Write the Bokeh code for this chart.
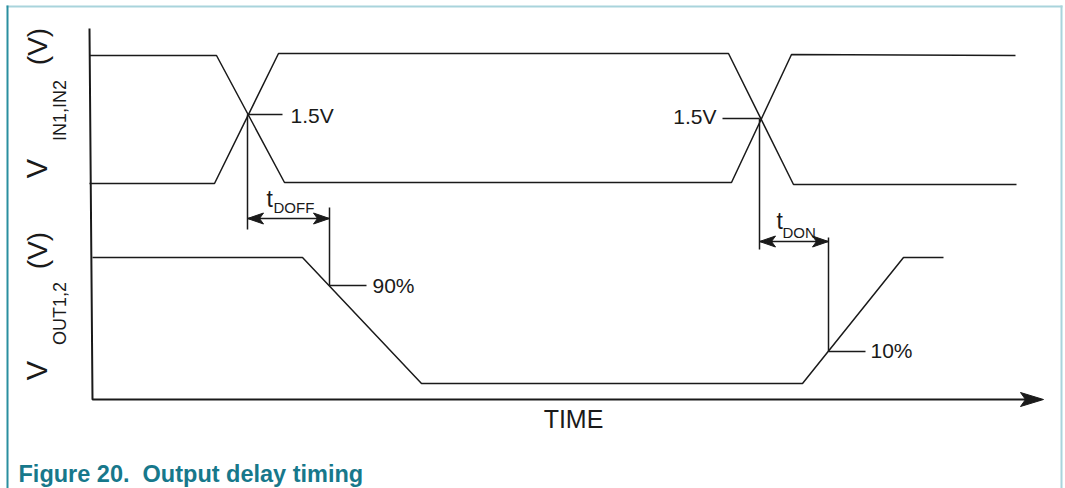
import math
from bokeh.plotting import figure
from bokeh.models import Range1d
from bokeh.core.properties import value
from bokeh.embed import file_html
from bokeh.resources import INLINE

# ---- diagram data (reference pixel units) ----
in_a_x = [89, 216, 284, 731, 791, 1015]
in_a_y = [55, 55, 182, 182, 54, 55]
in_b_x = [89, 214, 278, 728, 793, 1016]
in_b_y = [183, 183, 53, 53, 184, 184]
out_x = [92, 302, 421, 802, 903, 943]
out_y = [257, 257, 383, 383, 257, 257]

axis_x = [89, 92, 1040]
axis_y = [28, 399, 399]

# marker (vertical) lines
vl_x0 = [247, 329, 759, 828]
vl_y0 = [114, 207, 118, 237]
vl_x1 = [247, 329, 759, 828]
vl_y1 = [229, 285, 249, 351]

# short level ticks
tk_x0 = [247, 722, 329, 828]
tk_y0 = [114, 118, 285, 351]
tk_x1 = [282, 759, 366, 865]
tk_y1 = [114, 118, 285, 351]

# double arrows: (x_start, x_end, y)
darrow_x0 = [247, 759]
darrow_x1 = [329, 828]
darrow_y = [218, 241]

labels_text = ["1.5V", "1.5V", "90%", "10%"]
labels_x = [290, 716, 372, 870]
labels_y = [114.5, 115.5, 284.5, 350]
labels_align = ["left", "right", "left", "left"]

INK = "#1a1a1a"
FONT = "Liberation Sans"
W_PX, H_PX = 1065, 488

p = figure(width=W_PX, height=H_PX, output_backend="svg", toolbar_location=None,
           x_range=Range1d(0, W_PX), y_range=Range1d(H_PX, 0),
           min_border=0, background_fill_color="white", border_fill_color="white")
p.axis.visible = False
p.grid.visible = False
p.outline_line_color = None

# frame border
p.line([6, 1062], [6, 6], line_color="#a9d4dc", line_width=2)
p.line([7, 7], [5, 488], line_color="#2a8fa0", line_width=2)
p.line([1061, 1061], [5, 488], line_color="#a9d4dc", line_width=2)

# axes
p.line(axis_x, axis_y, line_color=INK, line_width=2)
tipx, tipy = 1043, 399
p.patch([tipx, tipx - 23, tipx - 18, tipx - 23], [tipy, tipy - 7, tipy, tipy + 7],
        fill_color=INK, line_color=INK, line_width=1)

# waveforms
for xs, ys in [(in_a_x, in_a_y), (in_b_x, in_b_y), (out_x, out_y)]:
    p.line(xs, ys, line_color=INK, line_width=1.5)

p.segment(vl_x0, vl_y0, vl_x1, vl_y1, line_color=INK, line_width=1.5)
p.segment(tk_x0, tk_y0, tk_x1, tk_y1, line_color=INK, line_width=1.3)

# double arrows
L, W, N = 16, 5.5, 4
hx, hy = [], []
for x0, x1, y in zip(darrow_x0, darrow_x1, darrow_y):
    p.line([x0, x1], [y, y], line_color=INK, line_width=1.5)
    hx.append([x0, x0 + L, x0 + L - N, x0 + L]); hy.append([y, y - W, y, y + W])
    hx.append([x1, x1 - L, x1 - L + N, x1 - L]); hy.append([y, y - W, y, y + W])
p.patches(hx, hy, fill_color=INK, line_color=INK, line_width=1)

# level labels (anchored at cap centre)
for t, x, y, a in zip(labels_text, labels_x, labels_y, labels_align):
    p.text([x], [y], text=[t], text_font=value(FONT), text_font_size="21px",
           text_color=INK, text_align=a, text_baseline="middle")

# t_DOFF, t_DON
p.text([266, 776], [198, 220], text=["t", "t"], text_font=value(FONT),
       text_font_size="23px", text_color=INK, text_baseline="middle")
p.text([273, 782], [207, 232], text=["DOFF", "DON"], text_font=value(FONT),
       text_font_size="15px", text_color=INK, text_baseline="middle")

# TIME
p.text([573], [418], text=["TIME"], text_font=value(FONT), text_font_size="25px",
       text_color=INK, text_align="center", text_baseline="middle")

# rotated y labels
rot = math.pi / 2
p.text([36, 36], [168, 370], text=["V", "V"], angle=rot, text_font=value(FONT),
       text_font_size="29px", text_color=INK, text_align="center", text_baseline="middle")
p.text([37, 37], [46, 250], text=["(V)", "(V)"], angle=rot, text_font=value(FONT),
       text_font_size="28px", text_color=INK, text_align="center", text_baseline="middle")
p.text([59, 59], [110, 313], text=["IN1,IN2", "OUT1,2"], angle=rot, text_font=value(FONT),
       text_font_size="18px", text_color=INK, text_align="center", text_baseline="middle")

# caption
p.text([18], [473], text=["Figure 20.\u00a0 Output delay timing"], text_font=value(FONT),
       text_font_size="23.5px", text_font_style="bold", text_color="#17788b",
       text_baseline="middle")

open("out.html", "w").write(file_html(p, INLINE))
